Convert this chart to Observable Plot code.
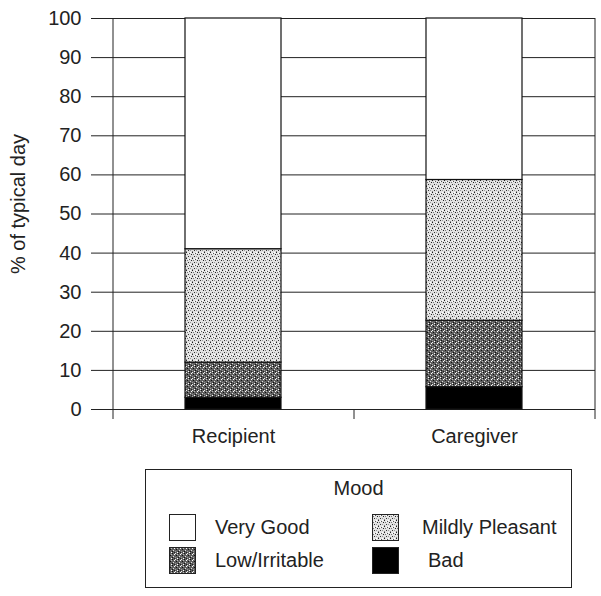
<!DOCTYPE html>
<html>
<head>
<meta charset="utf-8">
<script src="https://cdn.jsdelivr.net/npm/d3@7"></script>
<script src="https://cdn.jsdelivr.net/npm/@observablehq/plot@0.6"></script>
<style>
  html, body { margin: 0; padding: 0; background: #fff; }
  #wrap { position: relative; width: 601px; height: 596px; font-family: "Liberation Sans", Arial, sans-serif; color: #222; }
  #legend { position: absolute; left: 145px; top: 469px; width: 427px; height: 119px; border: 1px solid #222; box-sizing: border-box; font-size: 20px; }
  #legend .title { position: absolute; left: 0; width: 100%; top: 7px; text-align: center; }
  #legend .item { position: absolute; display: flex; align-items: center; white-space: nowrap; }
  #legend svg { display: block; }
</style>
</head>
<body>
<svg width="0" height="0" style="position:absolute">
  <defs>
    <pattern id="pMild" width="6" height="6" patternUnits="userSpaceOnUse">
      <rect width="6" height="6" fill="#e2e2e2"/>
      <rect x="0" y="0" width="1" height="1" fill="#222"/>
      <rect x="3" y="1" width="1" height="1" fill="#555"/>
      <rect x="1" y="2" width="1" height="1" fill="#777"/>
      <rect x="5" y="2" width="1" height="1" fill="#222"/>
      <rect x="2" y="4" width="1" height="1" fill="#333"/>
      <rect x="4" y="4" width="1" height="1" fill="#999"/>
      <rect x="0" y="5" width="1" height="1" fill="#888"/>
      <rect x="4" y="0" width="1" height="1" fill="#fff"/>
      <rect x="2" y="1" width="1" height="1" fill="#fff"/>
    </pattern>
    <pattern id="pLow" width="6" height="6" patternUnits="userSpaceOnUse">
      <rect width="6" height="6" fill="#5e5e5e"/>
      <rect x="0" y="0" width="1" height="1" fill="#eee"/>
      <rect x="3" y="0" width="1" height="1" fill="#111"/>
      <rect x="2" y="1" width="1" height="1" fill="#bbb"/>
      <rect x="5" y="1" width="1" height="1" fill="#fff"/>
      <rect x="1" y="2" width="1" height="1" fill="#111"/>
      <rect x="4" y="3" width="1" height="1" fill="#ddd"/>
      <rect x="0" y="4" width="1" height="1" fill="#999"/>
      <rect x="3" y="4" width="1" height="1" fill="#111"/>
      <rect x="2" y="5" width="1" height="1" fill="#fff"/>
      <rect x="5" y="5" width="1" height="1" fill="#222"/>
    </pattern>
  </defs>
</svg>
<div id="wrap"></div>
<script>
// ---- data ----
const groups = ["Recipient", "Caregiver"];
const moods = ["Bad", "Low/Irritable", "Mildly Pleasant", "Very Good"]; // bottom to top
const recipientValues = [3, 9, 29, 59];
const caregiverValues = [5.7, 17, 36, 41.3];
const yTicks = [0, 10, 20, 30, 40, 50, 60, 70, 80, 90, 100];
const yLabel = "% of typical day";
const legendOrder = ["Very Good", "Mildly Pleasant", "Low/Irritable", "Bad"];

// ---- styles ----
const moodFills = ["#000", "url(#pLow)", "url(#pMild)", "#fff"];

const rows = [];
groups.forEach((g, gi) => {
  const vals = gi === 0 ? recipientValues : caregiverValues;
  moods.forEach((m, mi) => rows.push({group: g, mood: m, value: vals[mi]}));
});

const W = 601, H = 455, mL = 113, mR = 6, mT = 18, mB = 46;
const paddingInner = 0.6, paddingOuter = 0.3;
const step = (W - mL - mR) / (groups.length - paddingInner + 2 * paddingOuter);

const chart = Plot.plot({
  width: W, height: H,
  marginLeft: mL, marginRight: mR, marginTop: mT, marginBottom: mB,
  style: {fontFamily: "'Liberation Sans', Arial, sans-serif", fontSize: "20px", color: "#222", background: "#fff"},
  x: {domain: groups, paddingInner, paddingOuter, label: null, tickSize: 0, tickPadding: 19},
  y: {domain: [0, 100], ticks: yTicks, tickSize: 22, tickPadding: 10, label: null},
  color: {domain: moods, range: moodFills},
  marks: [
    Plot.ruleY(yTicks, {stroke: "#222", strokeWidth: 1}),
    Plot.ruleX([groups[0]], {x: d => d, dx: -step / 2, insetBottom: -10, stroke: "#222"}),
    Plot.ruleX([groups[groups.length - 1]], {x: d => d, dx: step / 2, insetBottom: -10, stroke: "#222"}),
    Plot.ruleX(groups.slice(1), {x: d => d, dx: -step / 2, y1: 0, y2: 0, insetBottom: -10, stroke: "#222"}),
    Plot.barY(rows, Plot.stackY({order: moods}, {x: "group", y: "value", z: "mood", fill: "mood", stroke: "#111", strokeWidth: 1.2})),
    Plot.text([yLabel], {text: d => d, frameAnchor: "left", dx: -95, dy: -10, rotate: -90, textAnchor: "middle", fontSize: 20, fill: "#222"})
  ]
});
document.getElementById("wrap").appendChild(chart);

// ---- legend ----
const legend = document.createElement("div");
legend.id = "legend";
legend.innerHTML = `<div class="title">Mood</div>`;
const pos = [
  {left: 23, top: 44, gap: 19},
  {left: 226, top: 44, gap: 23},
  {left: 23, top: 77, gap: 19},
  {left: 226, top: 77, gap: 29}
];
legendOrder.forEach((m, i) => {
  const fill = moodFills[moods.indexOf(m)];
  const it = document.createElement("div");
  it.className = "item";
  it.style.left = pos[i].left + "px";
  it.style.top = pos[i].top + "px";
  it.innerHTML = `<svg width="27" height="27"><rect x="0.5" y="0.5" width="26" height="26" fill="${fill}" stroke="#222"/></svg><span style="margin-left:${pos[i].gap}px">${m}</span>`;
  legend.appendChild(it);
});
document.getElementById("wrap").appendChild(legend);
</script>
</body>
</html>
